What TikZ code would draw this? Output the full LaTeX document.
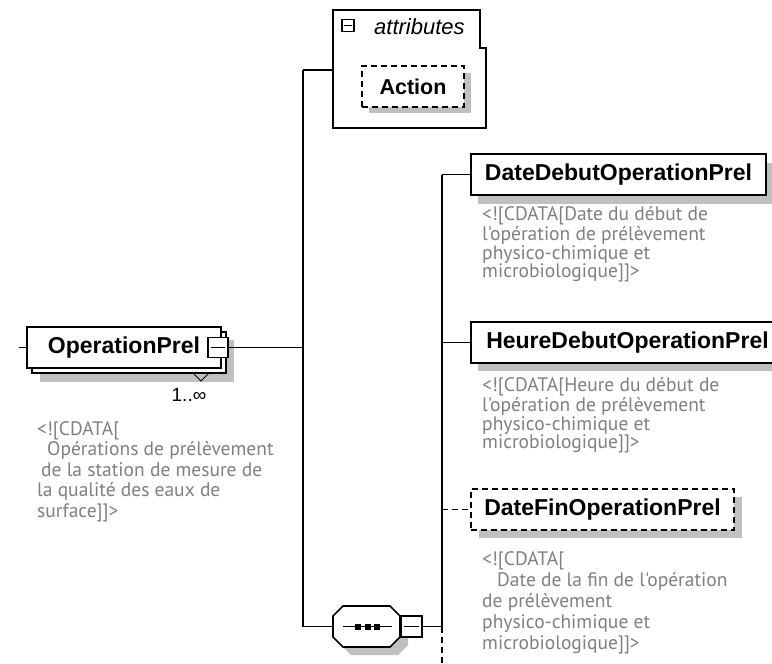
\documentclass[tikz,border=0pt]{standalone}
\usepackage{fontspec}
\setmainfont{Liberation Sans}
\newfontfamily\notefont{PT Sans}[Ligatures=TeXOff]
\definecolor{notegray}{RGB}{128,128,128}
\definecolor{shadowgray}{RGB}{192,192,192}
\tikzset{
  elembox/.style={draw=black, fill=white, line width=1.6pt, minimum height=41pt, inner sep=0pt, font=\fontsize{23}{24}\selectfont\bfseries},
  optbox/.style={elembox, dash pattern=on 6pt off 4pt},
  minusbox/.style={draw=black, fill=white, line width=1.4pt, inner sep=0pt},
  note/.style={font=\notefont\fontsize{19.5}{18.5}\selectfont, text=notegray, align=left, anchor=base west, inner sep=0pt},
  conn/.style={line width=1.6pt},
  optconn/.style={line width=1.6pt, dash pattern=on 6pt off 4pt},
  shade/.style={fill=shadowgray, draw=none},
}
\begin{document}
\begin{tikzpicture}[x=1pt,y=-1pt]
\useasboundingbox (0,0) rectangle (772,664);
\clip (0,0) rectangle (772,664);
\fill[white] (0,0) rectangle (772,664);

% OperationPrel
\fill[shade] (40,340) rectangle (234,382);
\node[elembox, minimum width=194pt] (opback) at (129,352.5) {};
\node[elembox, minimum width=194pt] (op) at (124,347.5) {OperationPrel\hspace{8pt}};
\node[minusbox, minimum size=20pt] (opm) at (218,347.5) {};
\draw[line width=1.3pt] ([xshift=4pt]opm.west) -- ([xshift=-4pt]opm.east);
\draw[line width=1pt] (193,373) -- (201,381) -- (209,373);
\node[font=\fontsize{19}{20}\selectfont, inner sep=0pt] (mult) at (189,395) {1..∞};
\coordinate (opin) at (19,347.5);
\draw[conn] (opin) -- (op.west);

% first spine
\coordinate (s1top) at (303,70);
\coordinate (s1bot) at (303,626.5);
\draw[conn] (s1top) -- (s1bot);
\draw[conn] (opm.east) -- (opm.east -| s1top);

% attributes
\draw[line width=1.6pt, fill=white] (333,10) -- (480,10) -- (480,48) -- (486,48) -- (486,128) -- (333,128) -- cycle;
\coordinate (attrin) at (333,70);
\draw[conn] (s1top) -- (attrin);
\node[minusbox, minimum size=12pt, line width=1.2pt] (attrm) at (348,25.5) {};
\draw[line width=1pt] ([xshift=2.5pt]attrm.west) -- ([xshift=-2.5pt]attrm.east);
\node[font=\fontsize{22}{24}\selectfont\itshape, inner sep=0pt, anchor=west] (attrlbl) at (374,27) {attributes};

% Action
\fill[shade] (369,73) rectangle (471,113);
\node[optbox, minimum width=102pt, font=\fontsize{21.5}{23}\selectfont\bfseries] (act) at (413,86.5) {Action};

% sequence
\fill[shade] (351,614) -- (398,614) -- (408,624) -- (408,645) -- (398,655) -- (351,655) -- (341,645) -- (341,624) -- cycle;
\draw[line width=1.6pt, fill=white] (343,606) -- (390,606) -- (400,616) -- (400,637) -- (390,647) -- (343,647) -- (333,637) -- (333,616) -- cycle;
\coordinate (seqin) at (333,626.5);
\draw[conn] (s1bot) -- (seqin);
\draw[line width=1.4pt] (343,626.5) -- (392,626.5);
\fill (355,623.5) rectangle (361,629.5);
\fill (364.5,623.5) rectangle (370.5,629.5);
\fill (374,623.5) rectangle (380,629.5);
\node[minusbox, minimum size=21pt] (seqm) at (411.5,626.5) {};
\draw[line width=1.3pt] ([xshift=4pt]seqm.west) -- ([xshift=-4pt]seqm.east);

% second spine
\coordinate (s2top) at (442,174.5);
\coordinate (s2mid) at (442,626.5);
\coordinate (s2bot) at (442,664);
\draw[conn] (seqm.east) -- (s2mid);
\draw[conn] (s2top) -- (s2mid);
\draw[optconn] (s2mid) -- (s2bot);

% DateDebutOperationPrel
\fill[shade] (478,163) rectangle (773,204);
\node[elembox, minimum width=295pt] (dd) at (618.5,174.5) {DateDebutOperationPrel};
\draw[conn] (s2top) -- (dd.west);
\node[note] (ddnote) at (482,277.5) {<![CDATA[Date du début de\\l'opération de prélèvement\\physico-chimique et\\microbiologique]]>};

% HeureDebutOperationPrel
\fill[shade] (478,330) rectangle (792,371);
\node[elembox, minimum width=313pt] (hd) at (627.5,342.5) {HeureDebutOperationPrel};
\draw[conn] (s2top |- hd.west) -- (hd.west);
\node[note] (hdnote) at (482,448.5) {<![CDATA[Heure du début de\\l'opération de prélèvement\\physico-chimique et\\microbiologique]]>};

% DateFinOperationPrel
\fill[shade] (479,497) rectangle (742,538);
\node[optbox, minimum width=263pt] (df) at (602.5,509.5) {DateFinOperationPrel};
\draw[optconn] (s2top |- df.west) -- (df.west);
\node[note, font=\notefont\fontsize{19.5}{21}\selectfont] (dfnote) at (482,649) {<![CDATA[\\\hspace*{15pt}Date de la fin de l'opération\\de prélèvement\\physico-chimique et\\microbiologique]]>};

% OperationPrel note
\node[note, font=\notefont\fontsize{19.5}{20.5}\selectfont] (opnote) at (37,517) {<![CDATA[\\\hspace*{10pt}Opérations de prélèvement\\\hspace*{4pt}de la station de mesure de\\la qualité des eaux de\\surface]]>};
\end{tikzpicture}
\end{document}
